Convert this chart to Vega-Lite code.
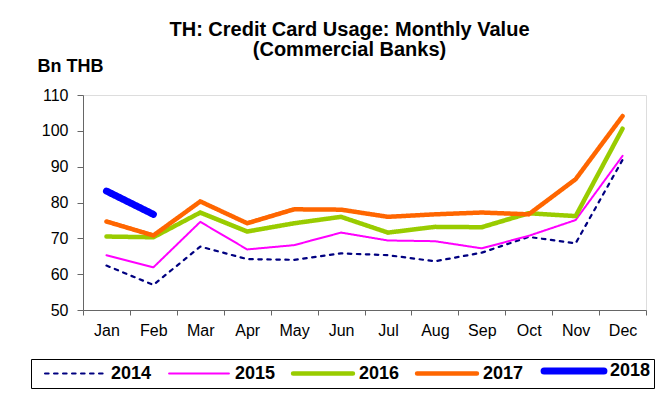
{
  "$schema": "https://vega.github.io/schema/vega-lite/v6.json",
  "width": 563,
  "height": 215,
  "autosize": {"type": "none"},
  "padding": {"left": 83, "top": 95, "right": 22, "bottom": 90},
  "background": "white",
  "title": {
    "text": ["TH: Credit Card Usage: Monthly Value", "(Commercial Banks)"],
    "font": "Liberation Sans",
    "fontSize": 20,
    "fontWeight": "bold",
    "lineHeight": 20,
    "color": "black",
    "frame": "group",
    "anchor": "middle",
    "dx": -15,
    "offset": -3
  },
  "data": {
    "values": [
      {"month": "Jan", "year": "2014", "value": 62.4},
      {"month": "Feb", "year": "2014", "value": 57.0},
      {"month": "Mar", "year": "2014", "value": 67.7},
      {"month": "Apr", "year": "2014", "value": 64.2},
      {"month": "May", "year": "2014", "value": 64.0},
      {"month": "Jun", "year": "2014", "value": 65.8},
      {"month": "Jul", "year": "2014", "value": 65.3},
      {"month": "Aug", "year": "2014", "value": 63.6},
      {"month": "Sep", "year": "2014", "value": 66.0},
      {"month": "Oct", "year": "2014", "value": 70.4},
      {"month": "Nov", "year": "2014", "value": 68.6},
      {"month": "Dec", "year": "2014", "value": 91.9},
      {"month": "Jan", "year": "2015", "value": 65.3},
      {"month": "Feb", "year": "2015", "value": 61.9},
      {"month": "Mar", "year": "2015", "value": 74.6},
      {"month": "Apr", "year": "2015", "value": 66.9},
      {"month": "May", "year": "2015", "value": 68.1},
      {"month": "Jun", "year": "2015", "value": 71.6},
      {"month": "Jul", "year": "2015", "value": 69.4},
      {"month": "Aug", "year": "2015", "value": 69.2},
      {"month": "Sep", "year": "2015", "value": 67.2},
      {"month": "Oct", "year": "2015", "value": 70.7},
      {"month": "Nov", "year": "2015", "value": 75.1},
      {"month": "Dec", "year": "2015", "value": 93.0},
      {"month": "Jan", "year": "2016", "value": 70.5},
      {"month": "Feb", "year": "2016", "value": 70.3},
      {"month": "Mar", "year": "2016", "value": 77.2},
      {"month": "Apr", "year": "2016", "value": 71.9},
      {"month": "May", "year": "2016", "value": 74.2},
      {"month": "Jun", "year": "2016", "value": 76.0},
      {"month": "Jul", "year": "2016", "value": 71.6},
      {"month": "Aug", "year": "2016", "value": 73.2},
      {"month": "Sep", "year": "2016", "value": 73.1},
      {"month": "Oct", "year": "2016", "value": 77.0},
      {"month": "Nov", "year": "2016", "value": 76.2},
      {"month": "Dec", "year": "2016", "value": 100.6},
      {"month": "Jan", "year": "2017", "value": 74.7},
      {"month": "Feb", "year": "2017", "value": 70.8},
      {"month": "Mar", "year": "2017", "value": 80.3},
      {"month": "Apr", "year": "2017", "value": 74.2},
      {"month": "May", "year": "2017", "value": 78.1},
      {"month": "Jun", "year": "2017", "value": 78.0},
      {"month": "Jul", "year": "2017", "value": 76.0},
      {"month": "Aug", "year": "2017", "value": 76.7},
      {"month": "Sep", "year": "2017", "value": 77.2},
      {"month": "Oct", "year": "2017", "value": 76.7},
      {"month": "Nov", "year": "2017", "value": 86.5},
      {"month": "Dec", "year": "2017", "value": 104.1},
      {"month": "Jan", "year": "2018", "value": 83.2},
      {"month": "Feb", "year": "2018", "value": 76.7}
    ]
  },
  "mark": {"type": "line", "strokeCap": "round", "strokeJoin": "round"},
  "encoding": {
    "x": {
      "field": "month",
      "type": "ordinal",
      "sort": ["Jan", "Feb", "Mar", "Apr", "May", "Jun", "Jul", "Aug", "Sep", "Oct", "Nov", "Dec"],
      "bandPosition": 0.5,
      "scale": {"type": "band", "paddingInner": 0, "paddingOuter": 0},
      "axis": {
        "title": null,
        "labelAngle": 0,
        "tickBand": "extent",
        "tickSize": 5,
        "labelPadding": 7,
        "labelFont": "Liberation Sans",
        "labelFontSize": 16,
        "labelColor": "black",
        "domainColor": "#666666",
        "tickColor": "#666666",
        "grid": false
      }
    },
    "y": {
      "field": "value",
      "type": "quantitative",
      "scale": {"domain": [50, 110], "nice": false, "zero": false},
      "axis": {
        "values": [50, 60, 70, 80, 90, 100, 110],
        "title": "Bn THB",
        "titleAngle": 0,
        "titleAlign": "left",
        "titleBaseline": "alphabetic",
        "titleX": -46,
        "titleY": -24,
        "titleFont": "Liberation Sans",
        "titleFontSize": 18,
        "titleFontWeight": "bold",
        "titleColor": "black",
        "tickSize": 6,
        "labelPadding": 9,
        "labelFont": "Liberation Sans",
        "labelFontSize": 16,
        "labelColor": "black",
        "domainColor": "#666666",
        "tickColor": "#666666",
        "grid": false
      }
    },
    "color": {
      "field": "year",
      "type": "ordinal",
      "scale": {
        "domain": ["2014", "2015", "2016", "2017", "2018"],
        "range": ["#000080", "#FF00FF", "#99CC00", "#FF6600", "#0000FF"]
      },
      "legend": {
        "title": null,
        "orient": "none",
        "legendX": -52,
        "legendY": 264,
        "direction": "horizontal",
        "columns": 5,
        "strokeColor": "black",
        "padding": 3,
        "symbolType": "M-8,0H8",
        "symbolSize": 56,
        "symbolOffset": 32,
        "labelOffset": 27,
        "columnPadding": 6,
        "labelFont": "Liberation Sans",
        "labelFontSize": 18,
        "labelFontWeight": "bold",
        "labelColor": "black",
        "encode": {"symbols": {"update": {"strokeCap": {"value": "round"}}}}
      }
    },
    "strokeWidth": {
      "field": "year",
      "type": "ordinal",
      "scale": {
        "type": "ordinal",
        "domain": ["2014", "2015", "2016", "2017", "2018"],
        "range": [2.2, 2, 4.5, 4.5, 7]
      }
    },
    "strokeDash": {
      "field": "year",
      "type": "ordinal",
      "scale": {
        "domain": ["2014", "2015", "2016", "2017", "2018"],
        "range": [[3.5, 5.5], [1, 0], [1, 0], [1, 0], [1, 0]]
      }
    }
  }
}
